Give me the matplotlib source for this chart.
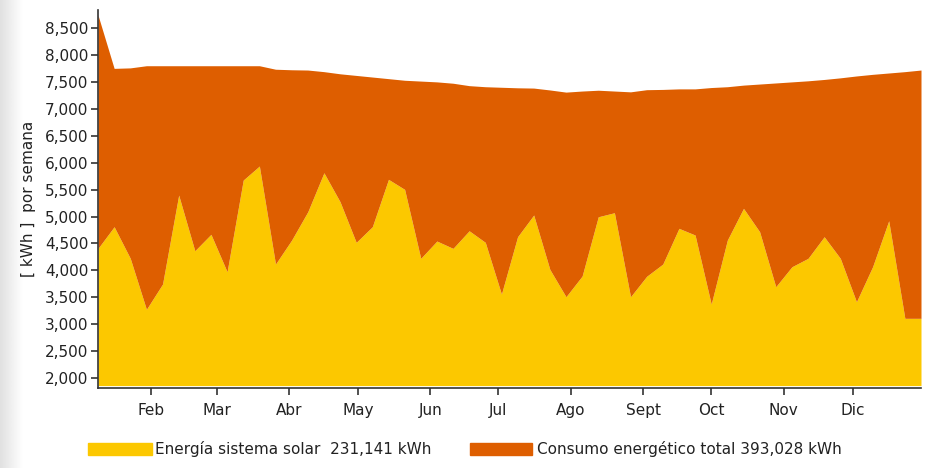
import numpy as np
import matplotlib.pyplot as plt
from matplotlib.patches import Rectangle

# energía semanal (kWh), 52 semanas
solar = [4408, 4810, 4223, 3276, 3746, 5398, 4364, 4669, 3974, 5677,
         5937, 4117, 4563, 5088, 5812, 5274, 4520, 4810, 5690, 5504,
         4223, 4544, 4408, 4735, 4520, 3560, 4624, 5027, 4018, 3510,
         3894, 4995, 5070, 3510, 3890, 4117, 4780, 4656, 3374, 4563,
         5151, 4717, 3696, 4067, 4223, 4624, 4223, 3417, 4067, 4921,
         3109, 3109]
total = [8741, 7751, 7760, 7800, 7800, 7800, 7800, 7800, 7800, 7800,
         7800, 7735, 7725, 7720, 7690, 7650, 7620, 7590, 7560, 7530,
         7515, 7500, 7475, 7430, 7410, 7400, 7390, 7385, 7350, 7310,
         7330, 7345, 7330, 7315, 7355, 7360, 7370, 7370, 7395, 7410,
         7440, 7460, 7480, 7500, 7520, 7545, 7575, 7610, 7640, 7665,
         7690, 7720]
meses = ["Feb", "Mar", "Abr", "May", "Jun", "Jul", "Ago", "Sept", "Oct", "Nov", "Dic"]
pos_meses = [3.3, 7.38, 11.85, 16.13, 20.6, 24.8, 29.3, 33.8, 38.0, 42.5, 46.8]
leyenda = ["Energía sistema solar  231,141 kWh", "Consumo energético total 393,028 kWh"]

amarillo = "#fcc800"
naranja = "#de5e00"
gris = "#333333"

plt.rcParams['font.family'] = ['DejaVu Sans']

fig = plt.figure(figsize=(9.3, 4.68), dpi=100)

# franja gris a la izquierda
bg = fig.add_axes([0, 0, 22 / 930, 1], zorder=-5)
bg.imshow(np.linspace(0.88, 1.0, 50)[None, :], cmap="gray", vmin=0, vmax=1,
          aspect="auto", extent=[0, 1, 0, 1])
bg.axis("off")

ax = fig.add_axes([98 / 930, 1 - 388 / 468, 823 / 930, 378 / 468])
x = np.arange(len(solar))
base = 1860
ax.fill_between(x, base, solar, color=amarillo, lw=0)
ax.fill_between(x, solar, total, color=naranja, lw=0)

ax.set_xlim(0, 51)
ax.set_ylim(1815, 8835)
ax.set_yticks(range(2000, 8501, 500))
ax.set_yticklabels([f"{v:,}" for v in range(2000, 8501, 500)])
ax.set_xticks(pos_meses)
ax.set_xticklabels(meses)

for s in ["top", "right"]:
    ax.spines[s].set_visible(False)
for s in ["left", "bottom"]:
    ax.spines[s].set_color(gris)
    ax.spines[s].set_linewidth(1.2)
ax.tick_params(axis="both", colors=gris, labelcolor="#222222", labelsize=11,
               length=5, width=1.2, pad=2)
ax.tick_params(axis="x", pad=6)
ax.set_ylabel("[ kWh ]  por semana", fontsize=11, color="#222222", labelpad=6)

# leyenda
fig.patches.append(Rectangle((88 / 930, 1 - 455 / 468), 64 / 930, 12 / 468,
                             transform=fig.transFigure, color=amarillo))
fig.text(155 / 930, 1 - 449 / 468, leyenda[0], fontsize=11, color="#222222",
         va="center", ha="left")
fig.patches.append(Rectangle((470 / 930, 1 - 455 / 468), 62 / 930, 12 / 468,
                             transform=fig.transFigure, color=naranja))
fig.text(537 / 930, 1 - 449 / 468, leyenda[1], fontsize=11, color="#222222",
         va="center", ha="left")

fig.savefig("out.png", dpi=100)
